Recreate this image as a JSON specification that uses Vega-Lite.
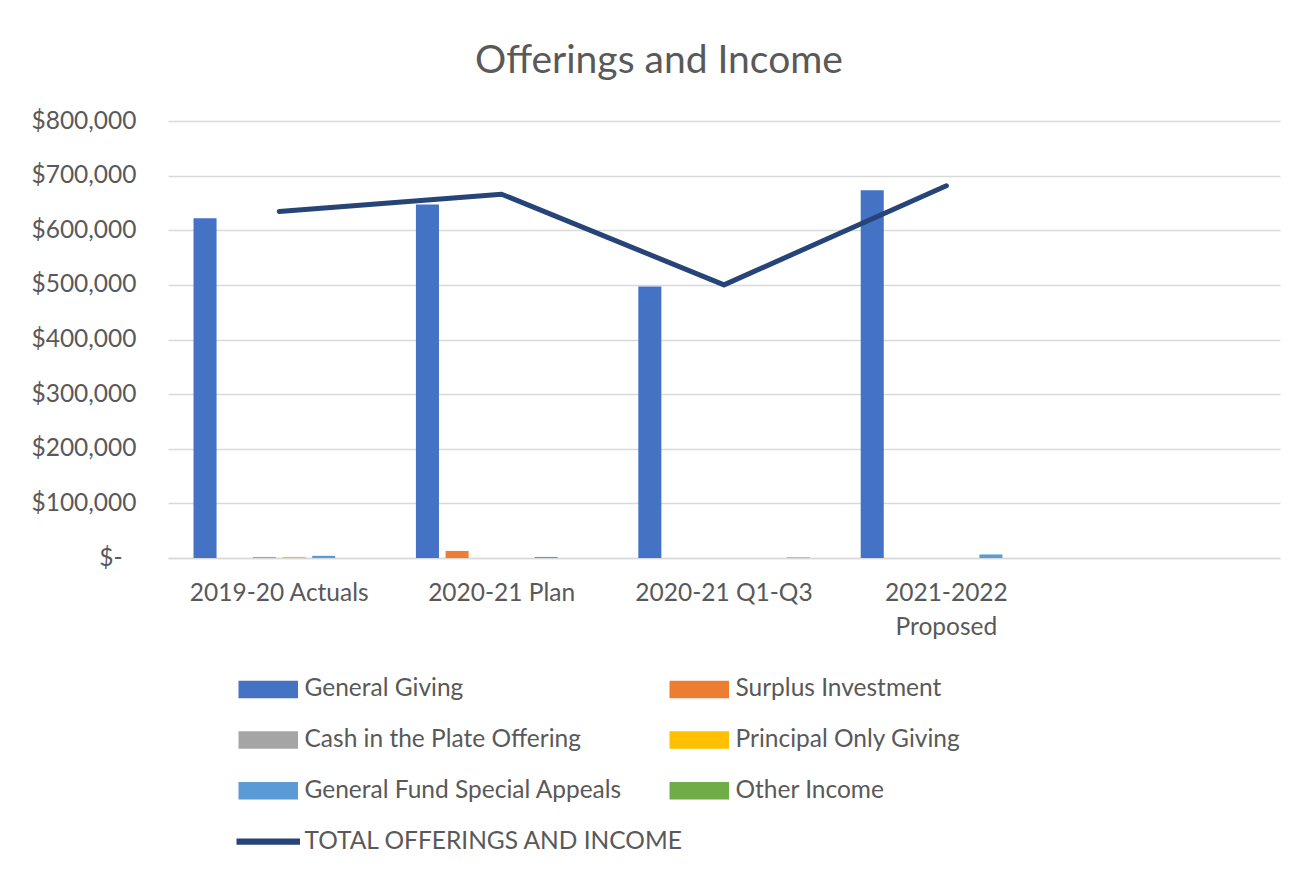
{
  "$schema": "https://vega.github.io/schema/vega-lite/v6.json",
  "width": 1112,
  "height": 437,
  "autosize": {"type": "none"},
  "padding": {"left": 168, "top": 121, "right": 30, "bottom": 316},
  "background": "white",
  "config": {"view": {"stroke": null}, "font": "Lato"},
  "title": {
    "text": "Offerings and Income",
    "fontSize": 39,
    "font": "Lato",
    "fontWeight": "normal",
    "color": "#595959",
    "anchor": "middle",
    "frame": "group",
    "dx": -65,
    "baseline": "bottom",
    "offset": -12
  },
  "datasets": {
    "bars": [
      {"category": "2019-20 Actuals", "series": "General Giving", "value": 622000},
      {"category": "2019-20 Actuals", "series": "Surplus Investment", "value": 0},
      {"category": "2019-20 Actuals", "series": "Cash in the Plate Offering", "value": 2000},
      {"category": "2019-20 Actuals", "series": "Principal Only Giving", "value": 2000},
      {"category": "2019-20 Actuals", "series": "General Fund Special Appeals", "value": 4000},
      {"category": "2019-20 Actuals", "series": "Other Income", "value": 0},
      {"category": "2020-21 Plan", "series": "General Giving", "value": 647000},
      {"category": "2020-21 Plan", "series": "Surplus Investment", "value": 13000},
      {"category": "2020-21 Plan", "series": "Cash in the Plate Offering", "value": 0},
      {"category": "2020-21 Plan", "series": "Principal Only Giving", "value": 0},
      {"category": "2020-21 Plan", "series": "General Fund Special Appeals", "value": 2000},
      {"category": "2020-21 Plan", "series": "Other Income", "value": 0},
      {"category": "2020-21 Q1-Q3", "series": "General Giving", "value": 497000},
      {"category": "2020-21 Q1-Q3", "series": "Surplus Investment", "value": 0},
      {"category": "2020-21 Q1-Q3", "series": "Cash in the Plate Offering", "value": 0},
      {"category": "2020-21 Q1-Q3", "series": "Principal Only Giving", "value": 0},
      {"category": "2020-21 Q1-Q3", "series": "General Fund Special Appeals", "value": 0},
      {"category": "2020-21 Q1-Q3", "series": "Other Income", "value": 1000},
      {"category": "2021-2022 Proposed", "series": "General Giving", "value": 673000},
      {"category": "2021-2022 Proposed", "series": "Surplus Investment", "value": 0},
      {"category": "2021-2022 Proposed", "series": "Cash in the Plate Offering", "value": 0},
      {"category": "2021-2022 Proposed", "series": "Principal Only Giving", "value": 0},
      {"category": "2021-2022 Proposed", "series": "General Fund Special Appeals", "value": 6500},
      {"category": "2021-2022 Proposed", "series": "Other Income", "value": 0}
    ],
    "total": [
      {"category": "2019-20 Actuals", "series": "TOTAL OFFERINGS AND INCOME", "value": 634500},
      {"category": "2020-21 Plan", "series": "TOTAL OFFERINGS AND INCOME", "value": 666000},
      {"category": "2020-21 Q1-Q3", "series": "TOTAL OFFERINGS AND INCOME", "value": 500000},
      {"category": "2021-2022 Proposed", "series": "TOTAL OFFERINGS AND INCOME", "value": 681500}
    ]
  },
  "encoding": {
    "x": {
      "field": "category",
      "type": "nominal",
      "sort": null,
      "scale": {
        "domain": ["2019-20 Actuals", "2020-21 Plan", "2020-21 Q1-Q3", "2021-2022 Proposed", " "],
        "paddingInner": 0,
        "paddingOuter": 0
      },
      "axis": {
        "title": null,
        "labelAngle": 0,
        "labelPadding": 23,
        "labelFontSize": 24.5,
        "labelColor": "#595959",
        "labelLineHeight": 34,
        "labelBaseline": "top",
        "ticks": false,
        "domain": true,
        "domainColor": "#d9d9d9",
        "domainWidth": 1.5,
        "grid": false,
        "labelExpr": "datum.value === '2021-2022 Proposed' ? ['2021-2022', 'Proposed'] : datum.value"
      }
    },
    "y": {
      "field": "value",
      "type": "quantitative",
      "scale": {"domain": [0, 800000], "nice": false},
      "axis": {
        "title": null,
        "values": [0, 100000, 200000, 300000, 400000, 500000, 600000, 700000, 800000],
        "grid": true,
        "gridColor": "#d9d9d9",
        "gridWidth": 1.5,
        "domain": false,
        "ticks": false,
        "labelPadding": {"condition": {"test": "datum.value === 0", "value": 46}, "value": 32},
        "labelFontSize": 24.5,
        "labelColor": "#595959",
        "labelExpr": "datum.value === 0 ? '$-' : format(datum.value, '$,')"
      }
    },
    "color": {
      "field": "series",
      "type": "nominal",
      "scale": {
        "domain": ["General Giving", "Surplus Investment", "Cash in the Plate Offering", "Principal Only Giving", "General Fund Special Appeals", "Other Income", "TOTAL OFFERINGS AND INCOME"],
        "range": ["#4472C4", "#ED7D31", "#A5A5A5", "#FFC000", "#5B9BD5", "#70AD47", "#264478"]
      },
      "legend": {
        "title": null,
        "orient": "none",
        "legendX": 88,
        "legendY": 556,
        "direction": "horizontal",
        "columns": 2,
        "columnPadding": -17,
        "rowPadding": 25.8,
        "padding": 0,
        "symbolSize": 256,
        "labelOffset": 24,
        "labelFontSize": 24.5,
        "labelColor": "#595959",
        "labelLimit": 500,
        "encode": {
          "symbols": {
            "update": {
              "shape": {"signal": "datum.value === 'TOTAL OFFERINGS AND INCOME' ? 'M-3.875,-0.3H3.875V0.3H-3.875Z' : 'M-3.625,-1H3.625V1H-3.625Z'"},
              "fill": {"scale": "color", "field": "value"},
              "stroke": {"value": "transparent"},
              "opacity": {"value": 1},
              "fillOpacity": {"value": 1}
            }
          }
        }
      }
    }
  },
  "layer": [
    {
      "data": {"name": "bars"},
      "mark": {"type": "bar"},
      "encoding": {
        "xOffset": {
          "field": "series",
          "type": "nominal",
          "scale": {
            "domain": ["General Giving", "Surplus Investment", "Cash in the Plate Offering", "Principal Only Giving", "General Fund Special Appeals", "Other Income"],
            "paddingInner": 0.223,
            "paddingOuter": 0.86
          }
        }
      }
    },
    {
      "data": {"name": "total"},
      "mark": {"type": "line", "strokeWidth": 5, "strokeCap": "round", "strokeJoin": "round"}
    }
  ]
}
